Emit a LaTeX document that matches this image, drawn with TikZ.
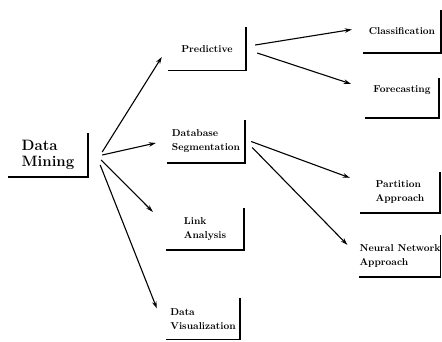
\documentclass[tikz,border=0pt]{standalone}
\usepackage{tikz}
\usetikzlibrary{arrows.meta}

\begin{document}
\begin{tikzpicture}[x=1pt,y=-1pt,
    card/.style={font=\fontsize{10}{14}\selectfont\bfseries,align=left,
                 inner sep=0pt,minimum width=78,minimum height=43},
    rim/.style={line width=1.5pt,line join=miter},
    arr/.style={line width=1.1pt,-{Stealth[length=7pt,width=4.5pt]}}]
  \useasboundingbox (0,0) rectangle (442,341);
  % nodes
  \node[card,minimum width=80,minimum height=44,
        font=\fontsize{15}{16}\selectfont\bfseries] (dm) at (48,155) {Data\\Mining};
  \node[card] (pred) at (207,49) {Predictive};
  \node[card] (dbs) at (206,141.5) {Database\\Segmentation};
  \node[card,minimum height=42] (link) at (205,229) {Link\\Analysis};
  \node[card,minimum width=74,minimum height=41] (dv) at (203,319) {Data\\Visualization};
  \node[card] (cls) at (402,31.5) {Classification};
  \node[card,minimum width=74,minimum height=40,text depth=18pt] (fore) at (402,98) {Forecasting};
  \node[card,minimum width=80,minimum height=41] (part) at (400,192.5) {Partition\\Approach};
  \node[card,minimum width=80,minimum height=42] (nn) at (400,256) {Neural Network\\Approach};
  % open boxes
  \foreach \n in {dm,pred,dbs,link,dv,cls,fore,part,nn}
    \draw[rim] (\n.south west) -| (\n.north east);
  % arrows
  \draw[arr] ([shift={(14,-3)}]dm.east) -- ([shift={(-6,8)}]pred.west);
  \draw[arr] ([shift={(14,0)}]dm.east) -- ([shift={(-11,1.5)}]dbs.west);
  \draw[arr] ([shift={(13,5)}]dm.east) -- ([shift={(-13,4)}]link.north west);
  \draw[arr] ([shift={(12,10)}]dm.east) -- ([shift={(-9,10)}]dv.north west);
  \draw[arr] ([shift={(9,-4)}]pred.east) -- ([shift={(-11,-2)}]cls.west);
  \draw[arr] ([shift={(11,4)}]pred.east) -- ([shift={(-14,6)}]fore.north west);
  \draw[arr] ([shift={(6,0)}]dbs.east) -- ([shift={(-10,6)}]part.north west);
  \draw[arr] ([shift={(7,6)}]dbs.east) -- ([shift={(-12,10)}]nn.north west);
\end{tikzpicture}
\end{document}
